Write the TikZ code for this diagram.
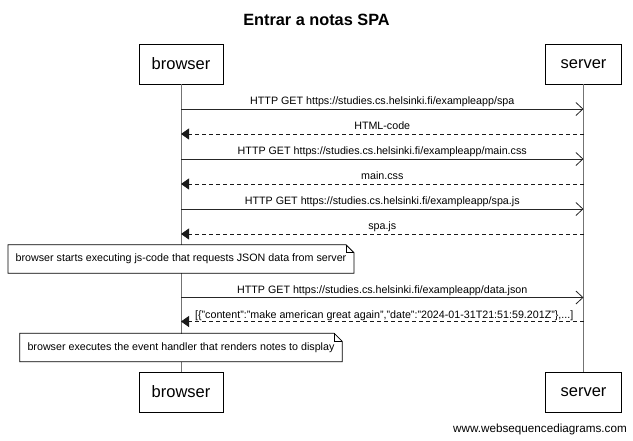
\documentclass[tikz,border=0pt]{standalone}
\usepackage{fontspec}
\setmainfont{Liberation Sans}
\usetikzlibrary{arrows.meta}
\begin{document}
\begin{tikzpicture}[x=1pt,y=-1pt,
  actor/.style={draw, line width=0.8pt, minimum height=40pt, inner sep=0pt, fill=white,
    font=\fontsize{16.5}{18}\selectfont},
  life/.style={draw=black!55, line width=0.8pt},
  req/.style={draw=black!85, line width=0.8pt, -{Straight Barb[length=7pt,width=13pt]}},
  resp/.style={draw=black!90, line width=0.8pt, dash pattern=on 4pt off 3pt,
    -{Triangle[length=8pt,width=11pt]}},
  lbl/.style={font=\fontsize{10.7}{12}\selectfont, inner sep=0pt, anchor=base},
  notetext/.style={fill=white, inner xsep=7.5pt, inner ysep=0pt, minimum height=28pt,
    font=\fontsize{10.7}{12}\selectfont},
  noteline/.style={draw=black, line width=0.8pt},
  ]
\useasboundingbox (0,0) rectangle (633,440);
\node[font=\bfseries\fontsize{16.3}{18}\selectfont] (title) at (316.5,20) {Entrar a notas SPA};
% participants
\node[actor, minimum width=84pt] (b1) at (181,64) {browser};
\node[actor, minimum width=76pt] (s1) at (583.5,64) {server};
\node[actor, minimum width=84pt] (b2) at (181,392) {browser};
\node[actor, minimum width=76pt] (s2) at (583.5,392) {server};
% lifelines
\draw[life] (b1.south) -- (b2.north);
\draw[life] (s1.south) -- (s2.north);
% message end points
\foreach \i/\y in {1/109,2/134,3/159,4/184,5/209,6/234,7/297.5,8/321.5}{
  \coordinate (bp\i) at (b1.south |- 0,\y);
  \coordinate (sp\i) at (s1.south |- 0,\y);
}
\draw[req] (bp1) -- (sp1) node[lbl, midway, yshift=4.5pt] {HTTP GET https://studies.cs.helsinki.fi/exampleapp/spa};
\draw[resp] (sp2) -- (bp2) node[lbl, midway, yshift=4.5pt] {HTML-code};
\draw[req] (bp3) -- (sp3) node[lbl, midway, yshift=4.5pt] {HTTP GET https://studies.cs.helsinki.fi/exampleapp/main.css};
\draw[resp] (sp4) -- (bp4) node[lbl, midway, yshift=4.5pt] {main.css};
\draw[req] (bp5) -- (sp5) node[lbl, midway, yshift=4.5pt] {HTTP GET https://studies.cs.helsinki.fi/exampleapp/spa.js};
\draw[resp] (sp6) -- (bp6) node[lbl, midway, yshift=4.5pt] {spa.js};
% note 1
\node[notetext] (n1) at (181,259) {browser starts executing js-code that requests JSON data from server};
\draw[noteline] (n1.north west) -- ([xshift=-8pt]n1.north east) -- ([yshift=-8pt]n1.north east)
  -- (n1.south east) -- (n1.south west) -- cycle;
\draw[noteline] ([xshift=-8pt]n1.north east) -- ([xshift=-8pt,yshift=-8pt]n1.north east)
  -- ([yshift=-8pt]n1.north east);
\draw[req] (bp7) -- (sp7) node[lbl, midway, yshift=4.5pt] {HTTP GET https://studies.cs.helsinki.fi/exampleapp/data.json};
\draw[resp] (sp8) -- (bp8) node[lbl, midway, xshift=2pt, yshift=3pt] {[\{"content":"make american great again","date":"2024-01-31T21:51:59.201Z"\},...]};
% note 2
\node[notetext] (n2) at (181,347.5) {browser executes the event handler that renders notes to display};
\draw[noteline] (n2.north west) -- ([xshift=-8pt]n2.north east) -- ([yshift=-8pt]n2.north east)
  -- (n2.south east) -- (n2.south west) -- cycle;
\draw[noteline] ([xshift=-8pt]n2.north east) -- ([xshift=-8pt,yshift=-8pt]n2.north east)
  -- ([yshift=-8pt]n2.north east);
% footer
\node[font=\fontsize{11.7}{13}\selectfont, anchor=base east, inner sep=0pt] (foot) at (627,432) {www.websequencediagrams.com};
\end{tikzpicture}
\end{document}
